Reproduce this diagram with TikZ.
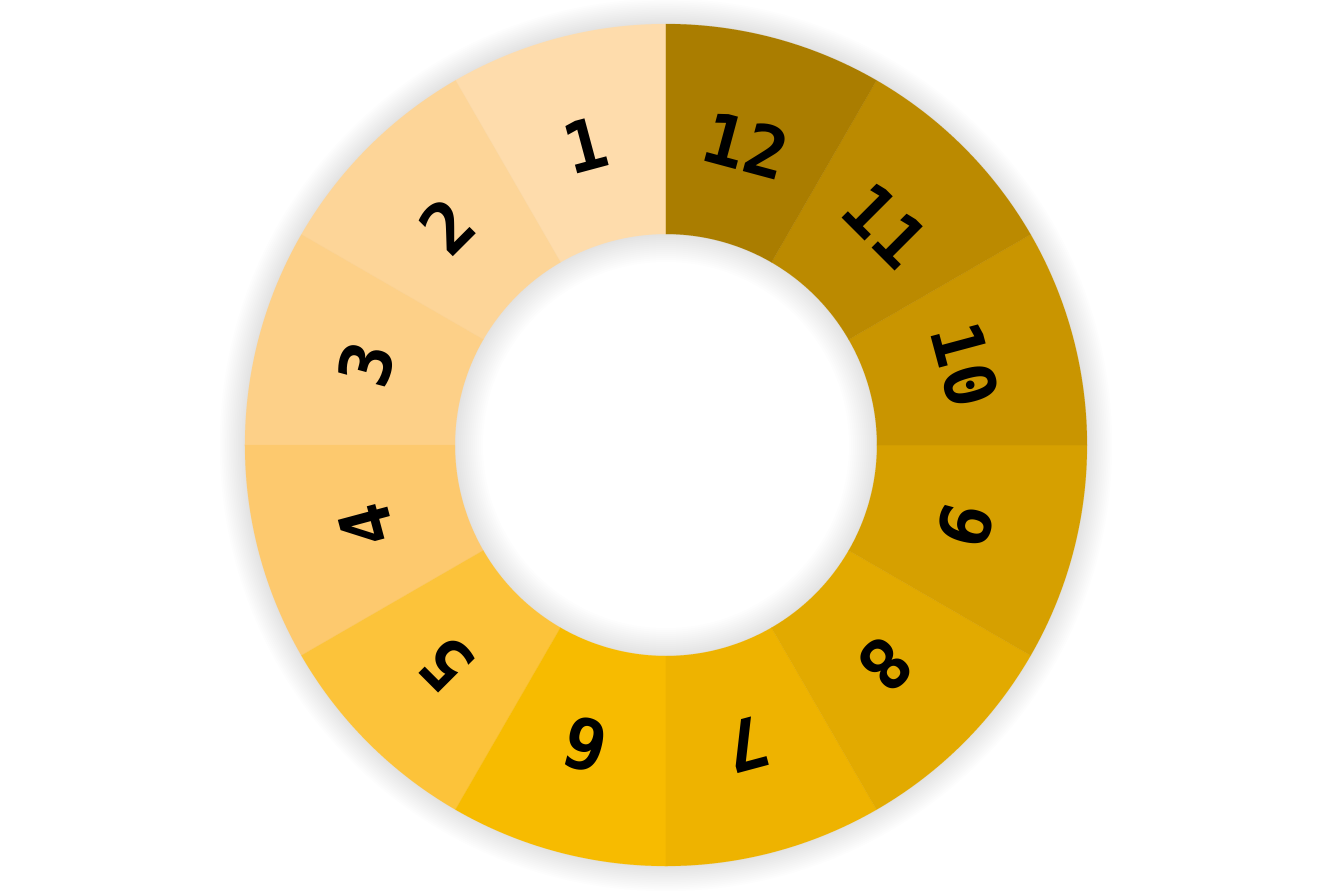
\documentclass[tikz,border=0pt]{standalone}
\usepackage{fontspec}
\usepackage{tikz}
\usetikzlibrary{positioning}
\newfontfamily\digitfont{DejaVu Sans Mono}

\definecolor{segA}{HTML}{FEDCAC}
\definecolor{segB}{HTML}{FDD598}
\definecolor{segC}{HTML}{FDD088}
\definecolor{segD}{HTML}{FDC96E}
\definecolor{segE}{HTML}{FCC33A}
\definecolor{segF}{HTML}{F7BB00}
\definecolor{segG}{HTML}{EEB300}
\definecolor{segH}{HTML}{E2AA00}
\definecolor{segI}{HTML}{D6A000}
\definecolor{segJ}{HTML}{C99500}
\definecolor{segK}{HTML}{BB8A00}
\definecolor{segL}{HTML}{AA7D00}

\begin{document}
\begin{tikzpicture}[seg/.style={draw=white, draw opacity=0.3, line width=0.4pt},
		lbl/.style={font=\digitfont\bfseries\fontsize{40}{40}\selectfont, text=black, inner sep=0pt}]
		\useasboundingbox[fill=white] (-13.32,-8.90) rectangle (13.34,8.90);
		\coordinate (c) at (0,0);
		% soft shadow round the ring
		\foreach \k in {1,...,14}
			\fill[black, opacity=0.009, even odd rule] (c) circle ({8.42+0.036*\k}) (c) circle ({4.22-0.04*\k});
		
		\fill[seg, segA] (90:8.42) arc (90:120:8.42) -- (120:4.22) arc (120:90:4.22) -- cycle;
		\fill[seg, segB] (120:8.42) arc (120:150:8.42) -- (150:4.22) arc (150:120:4.22) -- cycle;
		\fill[seg, segC] (150:8.42) arc (150:180:8.42) -- (180:4.22) arc (180:150:4.22) -- cycle;
		\fill[seg, segD] (180:8.42) arc (180:210:8.42) -- (210:4.22) arc (210:180:4.22) -- cycle;
		\fill[seg, segE] (210:8.42) arc (210:240:8.42) -- (240:4.22) arc (240:210:4.22) -- cycle;
		\fill[seg, segF] (240:8.42) arc (240:270:8.42) -- (270:4.22) arc (270:240:4.22) -- cycle;
		\fill[seg, segG] (270:8.42) arc (270:300:8.42) -- (300:4.22) arc (300:270:4.22) -- cycle;
		\fill[seg, segH] (300:8.42) arc (300:330:8.42) -- (330:4.22) arc (330:300:4.22) -- cycle;
		\fill[seg, segI] (330:8.42) arc (330:360:8.42) -- (360:4.22) arc (360:330:4.22) -- cycle;
		\fill[seg, segJ] (0:8.42) arc (0:30:8.42) -- (30:4.22) arc (30:0:4.22) -- cycle;
		\fill[seg, segK] (30:8.42) arc (30:60:8.42) -- (60:4.22) arc (60:30:4.22) -- cycle;
		\fill[seg, segL] (60:8.42) arc (60:90:8.42) -- (90:4.22) arc (90:60:4.22) -- cycle;
		
		\node[lbl, rotate=15] (n1) at (105:6.2) {1};
		\node[lbl, rotate=45] (n2) at (135:6.2) {2};
		\node[lbl, rotate=75] (n3) at (165:6.2) {3};
		\node[lbl, rotate=105] (n4) at (195:6.2) {4};
		\node[lbl, rotate=135] (n5) at (225:6.2) {5};
		\node[lbl, rotate=165] (n6) at (255:6.2) {6};
		\node[lbl, rotate=195] (n7) at (285:6.2) {7};
		\node[lbl, rotate=225] (n8) at (315:6.2) {8};
		\node[lbl, rotate=255] (n9) at (345:6.2) {9};
		\node[lbl, rotate=-75] (n10) at (15:6.2) {10};
		\node[lbl, rotate=-45] (n11) at (45:6.2) {11};
		\node[lbl, rotate=-15] (n12) at (75:6.2) {12};
	\end{tikzpicture}
\end{document}
